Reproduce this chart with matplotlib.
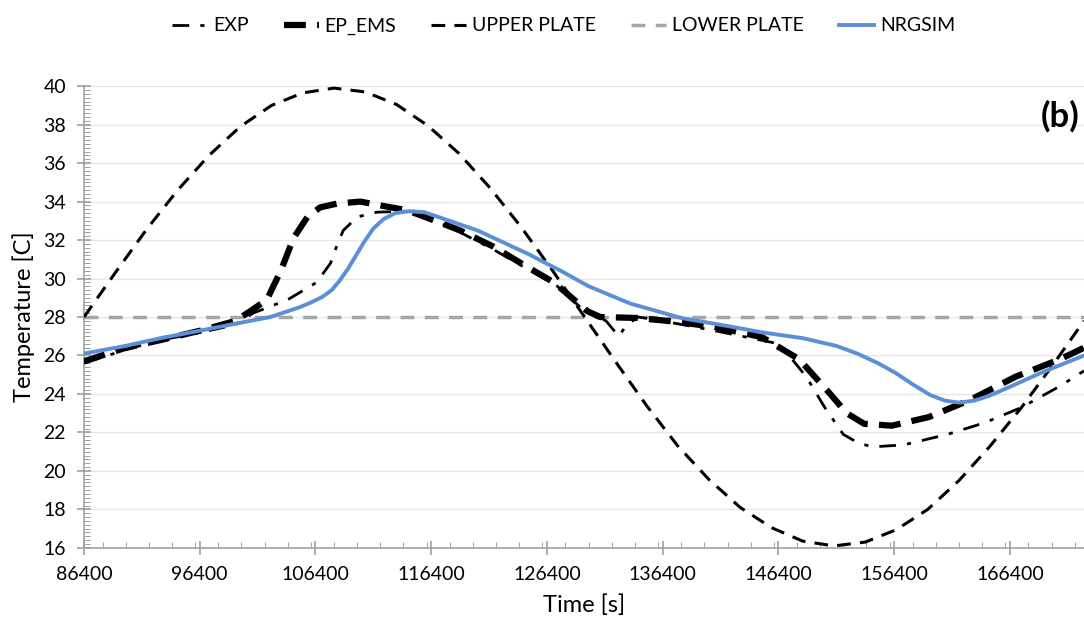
import matplotlib.pyplot as plt
from matplotlib.ticker import MultipleLocator

plt.rcParams['font.family'] = ['Lato', 'DejaVu Sans']

# -------------------------------
# DATOS
# -------------------------------
t_upper = [86400, 89100, 91800, 94500, 97200, 99900, 102600, 105300, 108000, 110700,
           113400, 116100, 118800, 121500, 124200, 126900, 129600, 132300, 135000,
           137700, 140400, 143100, 145800, 148500, 151200, 153900, 156600, 159300,
           162000, 164700, 167400, 170100, 172800]
upper = [28.0, 30.3, 32.55, 34.6, 36.4, 37.9, 39.0, 39.65, 39.9, 39.7,
         39.05, 37.95, 36.5, 34.7, 32.65, 30.4, 28.05, 25.7, 23.4,
         21.3, 19.55, 18.1, 17.05, 16.35, 16.1, 16.3, 16.95, 18.0,
         19.5, 21.3, 23.3, 25.5, 27.8]

t_lower = [86400, 172800]
lower = [28.0, 28.0]

t_nrg = [86400, 90000, 93000, 96500, 99900, 102500, 104000, 105000, 106000, 107000,
         107800, 108500, 109200, 109900, 110600, 111400, 112300, 113300, 114500,
         115800, 117500, 120400, 124700, 127600, 130000, 133600, 138000, 142300,
         145000, 148500, 151400, 153200, 155000, 156500, 158000, 159500, 160800,
         162000, 163300, 164600, 166500, 169100, 172800]
nrg = [26.1, 26.5, 26.9, 27.3, 27.7, 28.0, 28.3, 28.5, 28.75, 29.05,
       29.4, 29.9, 30.5, 31.2, 31.9, 32.6, 33.1, 33.4, 33.5,
       33.45, 33.1, 32.5, 31.3, 30.4, 29.6, 28.7, 27.95, 27.5,
       27.2, 26.9, 26.5, 26.1, 25.6, 25.1, 24.5, 23.95, 23.65,
       23.55, 23.65, 23.9, 24.4, 25.1, 26.0]

t_ep = [86400, 90000, 93000, 96500, 99500, 101000, 102200, 103400, 104500, 105700,
        106800, 108300, 110300, 112000, 114300, 116100, 118900, 121800, 124700,
        127000, 129900, 131000, 134200, 136800, 140800, 145000, 148200, 150800,
        152300, 153800, 156200, 159400, 163000, 166900, 170700, 172800]
ep = [25.7, 26.4, 26.8, 27.3, 27.8, 28.4, 28.9, 30.4, 32.1, 33.2,
      33.7, 33.9, 34.0, 33.8, 33.55, 33.15, 32.5, 31.65, 30.6,
      29.8, 28.3, 28.0, 27.95, 27.8, 27.5, 26.95, 25.8, 24.05,
      23.0, 22.45, 22.35, 22.8, 23.7, 24.9, 25.8, 26.4]

t_exp = [86400, 90000, 93000, 96500, 99500, 101000, 104000, 106500, 107700, 108300,
         108800, 110000, 111700, 114300, 116100, 118900, 121800, 124700, 127300,
         129300, 130200, 131500, 132600, 133300, 134300, 136800, 140800, 146500,
         148800, 150400, 152000, 153300, 154500, 157200, 161000, 164200, 167400,
         170700, 172800]
exp = [25.6, 26.3, 26.8, 27.2, 27.6, 28.2, 28.9, 29.8, 30.8, 31.8,
       32.5, 33.2, 33.45, 33.5, 33.2, 32.4, 31.5, 30.5, 29.6,
       28.5, 28.2, 27.8, 27.0, 27.6, 28.0, 27.75, 27.3, 26.6,
       24.9, 23.3, 21.9, 21.45, 21.25, 21.35, 21.9, 22.5, 23.3,
       24.4, 25.2]

# -------------------------------
# GRÁFICO
# -------------------------------
fig = plt.figure(figsize=(10.84, 6.29), dpi=100)
ax = fig.add_axes([0.0775, 0.129, 0.9225, 0.734])

ax.plot(t_lower, lower, color='#a6a6a6', lw=2.5, dashes=(4, 3), label='LOWER PLATE', zorder=2)
ax.plot(t_upper, upper, color='black', lw=2.2, dashes=(4.5, 3), label='UPPER PLATE', zorder=3)
ax.plot(t_exp, exp, color='black', lw=2, dashes=(6, 4, 1.5, 4), label='EXP', zorder=3)
ax.plot(t_ep, ep, color='black', lw=4.5, dashes=(3.5, 1.8), label='EP_EMS', zorder=3)
ax.plot(t_nrg, nrg, color='#5b8fd6', lw=2.8, label='NRGSIM', zorder=4)

ax.set_xlim(86400, 172800)
ax.set_ylim(16, 40)
ax.xaxis.set_minor_locator(MultipleLocator(2000))
ax.yaxis.set_major_locator(MultipleLocator(2))
ax.yaxis.set_minor_locator(MultipleLocator(0.2))
ax.set_xticks(range(86400, 172800, 10000))

ax.grid(axis='y', color='#e6e6e6', lw=1)
ax.set_axisbelow(True)
for s in ['top', 'right']:
    ax.spines[s].set_visible(False)
for s in ['left', 'bottom']:
    ax.spines[s].set_color('#a0a0a0')
    ax.spines[s].set_linewidth(1.2)

ax.tick_params(which='major', direction='inout', length=10, width=1.2, color='#a0a0a0',
               labelsize=14, pad=8)
ax.tick_params(which='minor', direction='in', length=4.5, width=0.7, color='#a0a0a0')
ax.tick_params(axis='y', which='minor', length=4)

ax.set_xlabel('Time [s]', fontsize=17, labelpad=8)
ax.set_ylabel('Temperature [C]', fontsize=17, labelpad=6)
ax.text(0.995, 0.97, '(b)', transform=ax.transAxes, ha='right', va='top',
        fontsize=25, fontweight='bold')

h, l = ax.get_legend_handles_labels()
orden = ['EXP', 'EP_EMS', 'UPPER PLATE', 'LOWER PLATE', 'NRGSIM']
hh = [h[l.index(o)] for o in orden]
fig.legend(hh, orden, loc='upper center', bbox_to_anchor=(0.52, 1.0), ncol=5,
           frameon=False, fontsize=14, handlelength=1.8, columnspacing=1.8,
           handletextpad=0.3)

fig.savefig('out.png', dpi=100)
